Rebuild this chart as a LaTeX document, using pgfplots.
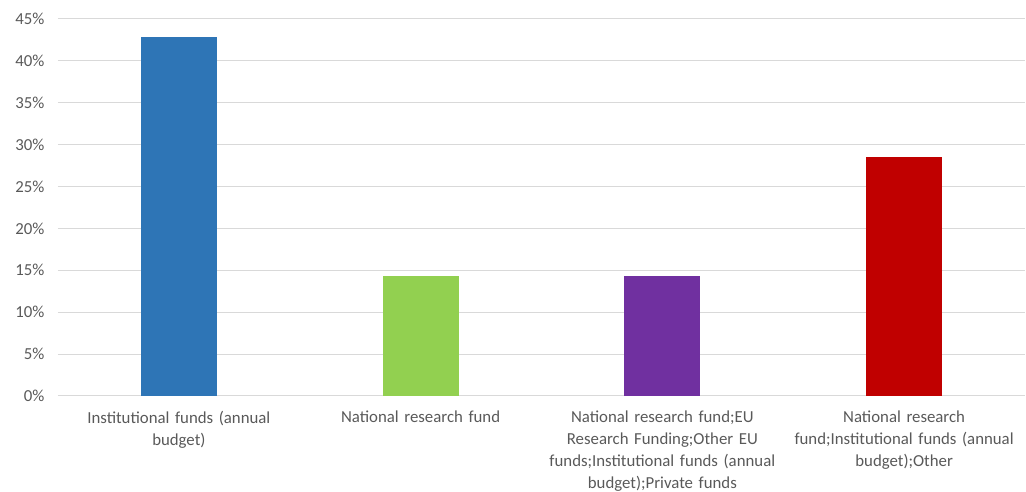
\documentclass[border=0pt]{standalone}
\usepackage{pgfplots}
\pgfplotsset{compat=1.18}
\usepackage{fontspec}
\setmainfont{Carlito}
\definecolor{cblue}{HTML}{2E75B6}
\definecolor{cgreen}{HTML}{92D050}
\definecolor{cpurple}{HTML}{7030A0}
\definecolor{cred}{HTML}{C00000}
\definecolor{gridc}{HTML}{D9D9D9}
\definecolor{txt}{HTML}{595959}
\begin{document}
\begin{tikzpicture}[x=1pt,y=1pt]
\useasboundingbox (-58,-96) rectangle (968,377+19);
\begin{axis}[
  at={(0,0)}, anchor=south west,
  scale only axis, width=967pt, height=377pt,
  xmin=-0.5, xmax=3.5, ymin=0, ymax=45,
  ytick={0,5,...,45},
  yticklabel={\pgfmathprintnumber{\tick}\%},
  /pgf/number format/assume math mode=true,
  xtick={0,1,2,3},
  xticklabels={{Institutional funds (annual\\budget)},{National research fund},{National research fund;EU\\Research Funding;Other EU\\funds;Institutional funds (annual\\budget);Private funds},{National research\\fund;Institutional funds (annual\\budget);Other}},
  xticklabel style={align=center, text width=235pt, font=\fontsize{16.8}{22}\selectfont, text=txt, yshift=-7pt},
  yticklabel style={font=\fontsize{16.8}{18}\selectfont, text=txt, xshift=-10pt},
  ymajorgrids, xmajorgrids=false,
  y grid style={gridc, line width=1pt},
  axis line style={draw=none},
  tick style={draw=none},
  ybar, bar width=76pt, bar shift=0pt,
  clip=false,
]
\addplot[fill=cblue, draw=none] coordinates {(0,42.86)};
\addplot[fill=cgreen, draw=none] coordinates {(1,14.29)};
\addplot[fill=cpurple, draw=none] coordinates {(2,14.29)};
\addplot[fill=cred, draw=none] coordinates {(3,28.57)};
\end{axis}
\end{tikzpicture}
\end{document}
